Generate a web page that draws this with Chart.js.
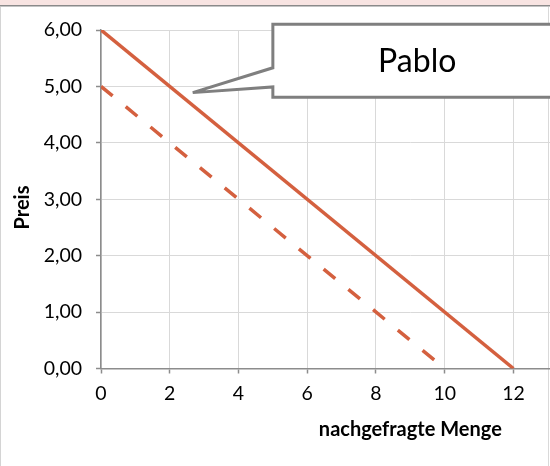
<!DOCTYPE html>
<html lang="de">
<head>
<meta charset="utf-8">
<title>Nachfrage</title>
<script src="https://cdn.jsdelivr.net/npm/chart.js@4/dist/chart.umd.min.js"></script>
<style>
  html, body { margin: 0; padding: 0; background: #fff; overflow: hidden; }
  #frame { position: absolute; left: 0; top: 0; width: 550px; height: 466px; overflow: hidden; }
  #band { position: absolute; left: 0; top: 0; width: 550px; height: 5px; background: #f8e4e2; }
  #bandLine { position: absolute; left: 0; top: 5px; width: 550px; height: 1px; background: #8a8a8a; box-shadow: 0 1px 0 #c4c4c4; }
  #edgeL { position: absolute; left: 0; top: 7px; width: 1px; height: 459px; background: #d4d4d4; }
  #edgeR { position: absolute; left: 548px; top: 7px; width: 1px; height: 459px; background: #d9d9d9; }
  #wrap { position: absolute; left: 0; top: 0; width: 740px; height: 466px; }
</style>
</head>
<body>
<div id="frame">
  <div id="band"></div>
  <div id="bandLine"></div>
  <div id="edgeL"></div>
  <div id="edgeR"></div>
  <div id="wrap"><canvas id="chart" width="740" height="466"></canvas></div>
</div>
<script>
// Nachfragekurven: Preis gegen nachgefragte Menge
const pabloQty = [0, 12];
const pabloPrice = [6, 0];
const shiftedQty = [0, 10];
const shiftedPrice = [5, 0];

const yTickLabels = ['0,00', '1,00', '2,00', '3,00', '4,00', '5,00', '6,00'];
const xTickLabels = ['0', '2', '4', '6', '8', '10', '12', '14', '16', '18'];

const calloutText = 'Pablo';

const toPoints = (xs, ys) => xs.map((x, i) => ({ x: x, y: ys[i] }));

const lineColor = '#d4603f';
const axisColor = '#8c8c8c';
const gridColor = '#d9d9d9';
const tickFont = { family: 'Lato', size: 19.5 };
const titleFont = { family: 'Lato', size: 20, weight: 'bold' };

// Sprechblase, deren Spitze auf die durchgezogene Kurve zeigt (in Achsenwerten)
const calloutPlugin = {
  id: 'callout',
  afterDatasetsDraw(chart, args, opts) {
    const { ctx, scales: { x, y } } = chart;
    const left = x.getPixelForValue(opts.left);
    const right = x.getPixelForValue(opts.right);
    const top = y.getPixelForValue(opts.top);
    const bottom = y.getPixelForValue(opts.bottom);
    const tipX = x.getPixelForValue(opts.tip[0]);
    const tipY = y.getPixelForValue(opts.tip[1]);
    const baseHigh = y.getPixelForValue(opts.base[0]);
    const baseLow = y.getPixelForValue(opts.base[1]);
    ctx.save();
    ctx.beginPath();
    ctx.moveTo(left, top);
    ctx.lineTo(right, top);
    ctx.lineTo(right, bottom);
    ctx.lineTo(left, bottom);
    ctx.lineTo(left, baseLow);
    ctx.lineTo(tipX, tipY);
    ctx.lineTo(left, baseHigh);
    ctx.closePath();
    ctx.fillStyle = '#ffffff';
    ctx.fill();
    ctx.lineWidth = 3;
    ctx.lineJoin = 'miter';
    ctx.miterLimit = 2;
    ctx.strokeStyle = '#7f7f7f';
    ctx.stroke();
    ctx.fillStyle = '#000000';
    ctx.font = '32px Lato';
    ctx.textAlign = 'center';
    ctx.textBaseline = 'middle';
    ctx.fillText(opts.text, (left + right) / 2, (top + bottom) / 2 + 1);
    ctx.restore();
  }
};

new Chart(document.getElementById('chart'), {
  type: 'scatter',
  data: {
    datasets: [
      {
        label: 'Pablo',
        data: toPoints(pabloQty, pabloPrice),
        showLine: true,
        borderColor: lineColor,
        borderWidth: 3.5,
        pointRadius: 0,
        pointHoverRadius: 0
      },
      {
        label: 'Pablo (neu)',
        data: toPoints(shiftedQty, shiftedPrice),
        showLine: true,
        borderColor: lineColor,
        borderWidth: 3.5,
        borderDash: [15, 17],
        borderCapStyle: 'butt',
        pointRadius: 0,
        pointHoverRadius: 0
      }
    ]
  },
  options: {
    responsive: false,
    animation: false,
    events: [],
    layout: { padding: { left: 0, top: 30, right: 20, bottom: 0 } },
    plugins: {
      legend: { display: false },
      tooltip: { enabled: false },
      callout: {
        text: calloutText,
        tip: [2.67, 4.89],
        left: 5.0,
        right: 13.4,
        top: 6.1,
        bottom: 4.81,
        base: [5.33, 4.99]
      }
    },
    scales: {
      x: {
        type: 'linear',
        min: 0,
        max: 18,
        afterFit(scale) { scale.height = 97.5; },
        ticks: {
          stepSize: 2,
          color: '#000',
          font: tickFont,
          padding: 9,
          maxRotation: 0,
          callback: (v) => xTickLabels[Math.round(v / 2)]
        },
        grid: { color: gridColor, lineWidth: 1, tickLength: 5, tickColor: axisColor, tickWidth: 1.5 },
        border: { color: axisColor, width: 1.5 },
        title: {
          display: true,
          text: 'nachgefragte Menge',
          color: '#000',
          font: titleFont,
          padding: { top: 0, bottom: 24 }
        }
      },
      y: {
        type: 'linear',
        min: 0,
        max: 6,
        afterFit(scale) { scale.width = 101; },
        ticks: {
          stepSize: 1,
          color: '#000',
          font: tickFont,
          padding: 14,
          callback: (v) => yTickLabels[Math.round(v)]
        },
        grid: { color: gridColor, lineWidth: 1, tickLength: 5, tickColor: axisColor, tickWidth: 1.5 },
        border: { color: axisColor, width: 1.5 },
        title: {
          display: true,
          text: 'Preis\u2007 ',
          color: '#000',
          font: titleFont,
          padding: { top: 11, bottom: 0 }
        }
      }
    }
  },
  plugins: [calloutPlugin]
});
</script>
</body>
</html>
